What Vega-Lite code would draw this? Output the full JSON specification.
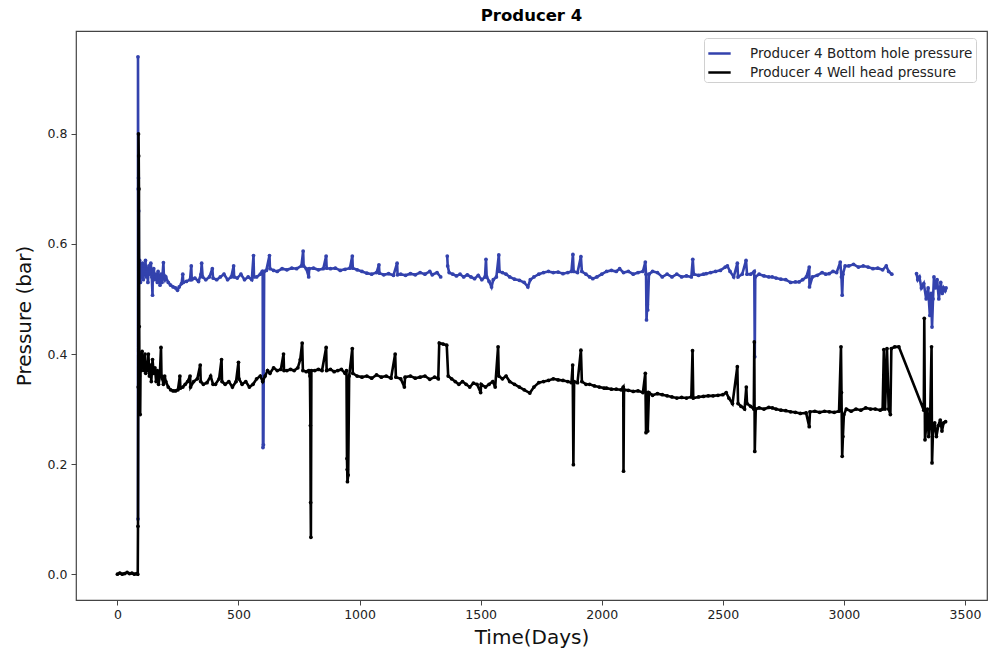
{
  "$schema": "https://vega.github.io/schema/vega-lite/v6.json",
  "width": 911,
  "height": 569,
  "autosize": {"type": "none"},
  "padding": {"left": 76, "top": 31, "right": 10, "bottom": 57},
  "background": "white",
  "config": {
    "view": {"stroke": "#444", "strokeWidth": 1.2},
    "font": "DejaVu Sans",
    "axis": {"grid": false, "domain": false, "tickColor": "#444", "tickSize": 5, "labelFont": "DejaVu Sans", "labelFontSize": 12.5, "labelColor": "#222", "titleFont": "DejaVu Sans", "titleFontWeight": "normal", "titleColor": "#111", "titleFontSize": 20}
  },
  "title": {"text": "Producer 4", "font": "DejaVu Sans", "fontSize": 16.5, "fontWeight": "bold", "color": "#000", "anchor": "middle", "offset": 7},
  "datasets": {
    "bhp": [
      {"d":85,"p":0.10,"g":1},{"d":85,"p":0.94,"g":1},{"d":86,"p":0.70,"g":1},{"d":87,"p":0.72,"g":1},{"d":88,"p":0.66,"g":1},{"d":89,"p":0.55,"g":1},{"d":92,"p":0.57,"g":1},{"d":95,"p":0.53,"g":1},{"d":98,"p":0.56,"g":1},{"d":101,"p":0.54,"g":1},{"d":104,"p":0.565,"g":1},{"d":107,"p":0.535,"g":1},{"d":110,"p":0.56,"g":1},{"d":113,"p":0.545,"g":1},{"d":116,"p":0.57,"g":1},{"d":119,"p":0.54,"g":1},{"d":122,"p":0.555,"g":1},{"d":126,"p":0.53,"g":1},{"d":130,"p":0.56,"g":1},{"d":134,"p":0.545,"g":1},{"d":138,"p":0.565,"g":1},{"d":142,"p":0.54,"g":1},{"d":145,"p":0.507,"g":1},{"d":146,"p":0.545,"g":1},{"d":150,"p":0.555,"g":1},{"d":155,"p":0.535,"g":1},{"d":160,"p":0.545,"g":1},{"d":165,"p":0.53,"g":1},{"d":168,"p":0.55,"g":1},{"d":172,"p":0.54,"g":1},{"d":176,"p":0.525,"g":1},{"d":180,"p":0.545,"g":1},{"d":184,"p":0.53,"g":1},{"d":190,"p":0.566,"g":1},{"d":192,"p":0.54,"g":1},{"d":196,"p":0.535,"g":1},{"d":200,"p":0.54,"g":1},{"d":210,"p":0.53,"g":1},{"d":220,"p":0.525,"g":1},{"d":230,"p":0.522,"g":1},{"d":240,"p":0.52,"g":1},{"d":248,"p":0.516,"g":1},{"d":255,"p":0.522,"g":1},{"d":265,"p":0.528,"g":1},{"d":270,"p":0.545,"g":1},{"d":272,"p":0.53,"g":1},{"d":285,"p":0.532,"g":1},{"d":300,"p":0.535,"g":1},{"d":305,"p":0.56,"g":1},{"d":307,"p":0.535,"g":1},{"d":320,"p":0.538,"g":1},{"d":335,"p":0.532,"g":1},{"d":345,"p":0.545,"g":1},{"d":348,"p":0.565,"g":1},{"d":352,"p":0.54,"g":1},{"d":365,"p":0.535,"g":1},{"d":380,"p":0.54,"g":1},{"d":392,"p":0.555,"g":1},{"d":395,"p":0.538,"g":1},{"d":410,"p":0.535,"g":1},{"d":425,"p":0.54,"g":1},{"d":440,"p":0.545,"g":1},{"d":455,"p":0.535,"g":1},{"d":470,"p":0.54,"g":1},{"d":480,"p":0.56,"g":1},{"d":482,"p":0.54,"g":1},{"d":495,"p":0.538,"g":1},{"d":510,"p":0.545,"g":1},{"d":525,"p":0.535,"g":1},{"d":540,"p":0.54,"g":1},{"d":555,"p":0.535,"g":1},{"d":562,"p":0.579,"g":1},{"d":564,"p":0.54,"g":1},{"d":575,"p":0.54,"g":1},{"d":590,"p":0.545,"g":1},{"d":598,"p":0.55,"g":1},{"d":600,"p":0.55,"g":1},{"d":601,"p":0.23,"g":1},{"d":603,"p":0.235,"g":1},{"d":606,"p":0.55,"g":1},{"d":615,"p":0.552,"g":1},{"d":628,"p":0.579,"g":1},{"d":630,"p":0.555,"g":1},{"d":645,"p":0.552,"g":1},{"d":660,"p":0.55,"g":1},{"d":680,"p":0.555,"g":1},{"d":700,"p":0.553,"g":1},{"d":720,"p":0.556,"g":1},{"d":740,"p":0.555,"g":1},{"d":760,"p":0.56,"g":1},{"d":767,"p":0.587,"g":1},{"d":769,"p":0.56,"g":1},{"d":780,"p":0.555,"g":1},{"d":790,"p":0.54,"g":1},{"d":792,"p":0.555,"g":1},{"d":810,"p":0.556,"g":1},{"d":830,"p":0.553,"g":1},{"d":850,"p":0.555,"g":1},{"d":862,"p":0.578,"g":1},{"d":864,"p":0.556,"g":1},{"d":880,"p":0.555,"g":1},{"d":900,"p":0.556,"g":1},{"d":920,"p":0.552,"g":1},{"d":940,"p":0.554,"g":1},{"d":960,"p":0.556,"g":1},{"d":970,"p":0.578,"g":1},{"d":972,"p":0.556,"g":1},{"d":990,"p":0.553,"g":1},{"d":1010,"p":0.55,"g":1},{"d":1030,"p":0.547,"g":1},{"d":1050,"p":0.545,"g":1},{"d":1070,"p":0.548,"g":1},{"d":1080,"p":0.562,"g":1},{"d":1082,"p":0.547,"g":1},{"d":1100,"p":0.544,"g":1},{"d":1120,"p":0.546,"g":1},{"d":1140,"p":0.543,"g":1},{"d":1155,"p":0.565,"g":1},{"d":1157,"p":0.544,"g":1},{"d":1170,"p":0.545,"g":1},{"d":1190,"p":0.543,"g":1},{"d":1210,"p":0.546,"g":1},{"d":1230,"p":0.544,"g":1},{"d":1250,"p":0.548,"g":1},{"d":1270,"p":0.545,"g":1},{"d":1290,"p":0.55,"g":1},{"d":1300,"p":0.544,"g":1},{"d":1320,"p":0.548,"g":1},{"d":1335,"p":0.54,"g":1},
      {"d":1362,"p":0.578,"g":2},{"d":1364,"p":0.56,"g":2},{"d":1370,"p":0.548,"g":2},{"d":1385,"p":0.545,"g":2},{"d":1400,"p":0.542,"g":2},{"d":1415,"p":0.545,"g":2},{"d":1430,"p":0.54,"g":2},{"d":1445,"p":0.544,"g":2},{"d":1460,"p":0.54,"g":2},{"d":1475,"p":0.537,"g":2},{"d":1490,"p":0.543,"g":2},{"d":1505,"p":0.535,"g":2},{"d":1518,"p":0.54,"g":2},{"d":1522,"p":0.572,"g":2},{"d":1525,"p":0.54,"g":2},{"d":1535,"p":0.532,"g":2},{"d":1545,"p":0.522,"g":2},{"d":1552,"p":0.535,"g":2},{"d":1565,"p":0.54,"g":2},{"d":1575,"p":0.58,"g":2},{"d":1578,"p":0.55,"g":2},{"d":1590,"p":0.548,"g":2},{"d":1605,"p":0.545,"g":2},{"d":1620,"p":0.54,"g":2},{"d":1640,"p":0.536,"g":2},{"d":1660,"p":0.534,"g":2},{"d":1680,"p":0.53,"g":2},{"d":1695,"p":0.522,"g":2},{"d":1705,"p":0.535,"g":2},{"d":1720,"p":0.54,"g":2},{"d":1740,"p":0.545,"g":2},{"d":1760,"p":0.548,"g":2},{"d":1780,"p":0.55,"g":2},{"d":1800,"p":0.548,"g":2},{"d":1820,"p":0.549,"g":2},{"d":1840,"p":0.546,"g":2},{"d":1860,"p":0.548,"g":2},{"d":1875,"p":0.55,"g":2},{"d":1881,"p":0.581,"g":2},{"d":1884,"p":0.55,"g":2},{"d":1900,"p":0.548,"g":2},{"d":1914,"p":0.577,"g":2},{"d":1918,"p":0.55,"g":2},{"d":1935,"p":0.545,"g":2},{"d":1950,"p":0.54,"g":2},{"d":1963,"p":0.537,"g":2},{"d":1980,"p":0.54,"g":2},{"d":2000,"p":0.545,"g":2},{"d":2020,"p":0.55,"g":2},{"d":2040,"p":0.552,"g":2},{"d":2060,"p":0.55,"g":2},{"d":2074,"p":0.555,"g":2},{"d":2090,"p":0.548,"g":2},{"d":2110,"p":0.55,"g":2},{"d":2130,"p":0.545,"g":2},{"d":2150,"p":0.548,"g":2},{"d":2170,"p":0.55,"g":2},{"d":2180,"p":0.567,"g":2},{"d":2183,"p":0.545,"g":2},{"d":2185,"p":0.462,"g":2},{"d":2188,"p":0.49,"g":2},{"d":2190,"p":0.48,"g":2},{"d":2195,"p":0.545,"g":2},{"d":2210,"p":0.55,"g":2},{"d":2230,"p":0.548,"g":2},{"d":2250,"p":0.54,"g":2},{"d":2270,"p":0.545,"g":2},{"d":2290,"p":0.54,"g":2},{"d":2310,"p":0.545,"g":2},{"d":2330,"p":0.54,"g":2},{"d":2350,"p":0.542,"g":2},{"d":2370,"p":0.54,"g":2},{"d":2376,"p":0.572,"g":2},{"d":2380,"p":0.545,"g":2},{"d":2400,"p":0.543,"g":2},{"d":2420,"p":0.545,"g":2},{"d":2431,"p":0.546,"g":2},{"d":2450,"p":0.548,"g":2},{"d":2470,"p":0.55,"g":2},{"d":2490,"p":0.552,"g":2},{"d":2510,"p":0.558,"g":2},{"d":2519,"p":0.56,"g":2},{"d":2530,"p":0.55,"g":2},{"d":2545,"p":0.54,"g":2},{"d":2560,"p":0.565,"g":2},{"d":2563,"p":0.54,"g":2},{"d":2580,"p":0.545,"g":2},{"d":2596,"p":0.57,"g":2},{"d":2600,"p":0.545,"g":2},{"d":2615,"p":0.545,"g":2},{"d":2630,"p":0.55,"g":2},{"d":2632,"p":0.395,"g":2},{"d":2634,"p":0.54,"g":2},{"d":2650,"p":0.545,"g":2},{"d":2670,"p":0.542,"g":2},{"d":2690,"p":0.54,"g":2},{"d":2704,"p":0.54,"g":2},{"d":2720,"p":0.538,"g":2},{"d":2740,"p":0.536,"g":2},{"d":2760,"p":0.535,"g":2},{"d":2780,"p":0.53,"g":2},{"d":2800,"p":0.531,"g":2},{"d":2815,"p":0.531,"g":2},{"d":2830,"p":0.535,"g":2},{"d":2845,"p":0.54,"g":2},{"d":2857,"p":0.558,"g":2},{"d":2858,"p":0.522,"g":2},{"d":2870,"p":0.54,"g":2},{"d":2890,"p":0.543,"g":2},{"d":2910,"p":0.548,"g":2},{"d":2925,"p":0.545,"g":2},{"d":2939,"p":0.546,"g":2},{"d":2955,"p":0.55,"g":2},{"d":2970,"p":0.548,"g":2},{"d":2985,"p":0.567,"g":2},{"d":2990,"p":0.54,"g":2},{"d":2993,"p":0.507,"g":2},{"d":2996,"p":0.545,"g":2},{"d":3005,"p":0.56,"g":2},{"d":3020,"p":0.56,"g":2},{"d":3040,"p":0.563,"g":2},{"d":3060,"p":0.558,"g":2},{"d":3080,"p":0.56,"g":2},{"d":3100,"p":0.558,"g":2},{"d":3120,"p":0.555,"g":2},{"d":3140,"p":0.556,"g":2},{"d":3160,"p":0.553,"g":2},{"d":3175,"p":0.56,"g":2},{"d":3185,"p":0.55,"g":2},{"d":3198,"p":0.545,"g":2},
      {"d":3300,"p":0.546,"g":3},{"d":3305,"p":0.535,"g":3},{"d":3312,"p":0.54,"g":3},{"d":3320,"p":0.52,"g":3},{"d":3330,"p":0.528,"g":3},{"d":3340,"p":0.5,"g":3},{"d":3348,"p":0.52,"g":3},{"d":3355,"p":0.47,"g":3},{"d":3360,"p":0.51,"g":3},{"d":3364,"p":0.449,"g":3},{"d":3368,"p":0.5,"g":3},{"d":3372,"p":0.54,"g":3},{"d":3378,"p":0.52,"g":3},{"d":3385,"p":0.535,"g":3},{"d":3392,"p":0.5,"g":3},{"d":3400,"p":0.53,"g":3},{"d":3406,"p":0.51,"g":3},{"d":3412,"p":0.52,"g":3},{"d":3418,"p":0.515,"g":3},{"d":3422,"p":0.52,"g":3}
    ],
    "whp": [
      {"d":0,"p":0},{"d":10,"p":0.002},{"d":20,"p":0},{"d":30,"p":0.001},{"d":40,"p":0.003},{"d":50,"p":0.001},{"d":60,"p":0.002},{"d":70,"p":0},{"d":80,"p":0.001},{"d":84,"p":0},{"d":85,"p":0.087},{"d":86,"p":0.34},{"d":87,"p":0.8},{"d":88,"p":0.76},{"d":89,"p":0.7},{"d":90,"p":0.45},{"d":91,"p":0.36},{"d":92,"p":0.39},{"d":94,"p":0.29},{"d":96,"p":0.4},{"d":99,"p":0.37},{"d":102,"p":0.405},{"d":105,"p":0.375},{"d":108,"p":0.395},{"d":111,"p":0.37},{"d":114,"p":0.4},{"d":117,"p":0.365},{"d":120,"p":0.385},{"d":124,"p":0.37},{"d":128,"p":0.4},{"d":132,"p":0.36},{"d":136,"p":0.38},{"d":140,"p":0.35},{"d":145,"p":0.39},{"d":150,"p":0.365},{"d":155,"p":0.375},{"d":160,"p":0.35},{"d":165,"p":0.37},{"d":170,"p":0.345},{"d":175,"p":0.36},{"d":180,"p":0.412},{"d":182,"p":0.36},{"d":186,"p":0.355},{"d":190,"p":0.345},{"d":195,"p":0.36},{"d":200,"p":0.35},{"d":210,"p":0.34},{"d":220,"p":0.335},{"d":230,"p":0.333},{"d":240,"p":0.333},{"d":250,"p":0.335},{"d":258,"p":0.36},{"d":260,"p":0.338},{"d":270,"p":0.34},{"d":280,"p":0.345},{"d":290,"p":0.35},{"d":300,"p":0.36},{"d":302,"p":0.34},{"d":315,"p":0.35},{"d":330,"p":0.355},{"d":342,"p":0.38},{"d":344,"p":0.35},{"d":355,"p":0.345},{"d":370,"p":0.348},{"d":385,"p":0.36},{"d":395,"p":0.345},{"d":405,"p":0.345},{"d":420,"p":0.355},{"d":430,"p":0.39},{"d":432,"p":0.35},{"d":445,"p":0.345},{"d":460,"p":0.35},{"d":475,"p":0.34},{"d":490,"p":0.35},{"d":500,"p":0.385},{"d":502,"p":0.355},{"d":515,"p":0.345},{"d":530,"p":0.35},{"d":545,"p":0.34},{"d":560,"p":0.345},{"d":575,"p":0.355},{"d":590,"p":0.36},{"d":600,"p":0.35},{"d":610,"p":0.36},{"d":620,"p":0.37},{"d":630,"p":0.365},{"d":645,"p":0.375},{"d":660,"p":0.37},{"d":675,"p":0.372},{"d":686,"p":0.4},{"d":688,"p":0.37},{"d":700,"p":0.37},{"d":715,"p":0.372},{"d":730,"p":0.37},{"d":745,"p":0.375},{"d":755,"p":0.39},{"d":763,"p":0.42},{"d":766,"p":0.37},{"d":780,"p":0.368},{"d":790,"p":0.37},{"d":795,"p":0.36},{"d":797,"p":0.27},{"d":798,"p":0.13},{"d":799,"p":0.067},{"d":801,"p":0.37},{"d":815,"p":0.37},{"d":830,"p":0.372},{"d":845,"p":0.37},{"d":862,"p":0.412},{"d":864,"p":0.37},{"d":880,"p":0.372},{"d":895,"p":0.368},{"d":910,"p":0.37},{"d":925,"p":0.372},{"d":940,"p":0.365},{"d":946,"p":0.37},{"d":948,"p":0.21},{"d":949,"p":0.19},{"d":950,"p":0.168},{"d":953,"p":0.18},{"d":957,"p":0.36},{"d":970,"p":0.41},{"d":972,"p":0.365},{"d":990,"p":0.36},{"d":1010,"p":0.358},{"d":1030,"p":0.36},{"d":1050,"p":0.356},{"d":1070,"p":0.362},{"d":1090,"p":0.358},{"d":1110,"p":0.36},{"d":1130,"p":0.356},{"d":1147,"p":0.4},{"d":1150,"p":0.358},{"d":1170,"p":0.355},{"d":1185,"p":0.34},{"d":1188,"p":0.358},{"d":1210,"p":0.36},{"d":1230,"p":0.356},{"d":1250,"p":0.358},{"d":1270,"p":0.36},{"d":1290,"p":0.354},{"d":1310,"p":0.358},{"d":1325,"p":0.355},{"d":1329,"p":0.42},{"d":1345,"p":0.418},{"d":1360,"p":0.416},{"d":1366,"p":0.36},{"d":1380,"p":0.355},{"d":1395,"p":0.35},{"d":1410,"p":0.345},{"d":1425,"p":0.35},{"d":1440,"p":0.345},{"d":1455,"p":0.34},{"d":1470,"p":0.347},{"d":1485,"p":0.345},{"d":1500,"p":0.33},{"d":1502,"p":0.345},{"d":1520,"p":0.34},{"d":1535,"p":0.345},{"d":1550,"p":0.35},{"d":1560,"p":0.34},{"d":1572,"p":0.413},{"d":1575,"p":0.36},{"d":1590,"p":0.355},{"d":1605,"p":0.36},{"d":1620,"p":0.35},{"d":1640,"p":0.345},{"d":1660,"p":0.34},{"d":1680,"p":0.335},{"d":1703,"p":0.329},{"d":1720,"p":0.34},{"d":1740,"p":0.348},{"d":1760,"p":0.35},{"d":1780,"p":0.352},{"d":1800,"p":0.355},{"d":1820,"p":0.353},{"d":1840,"p":0.352},{"d":1860,"p":0.35},{"d":1875,"p":0.348},{"d":1880,"p":0.38},{"d":1883,"p":0.199},{"d":1886,"p":0.35},{"d":1900,"p":0.348},{"d":1914,"p":0.407},{"d":1918,"p":0.35},{"d":1935,"p":0.345},{"d":1950,"p":0.345},{"d":1970,"p":0.342},{"d":1990,"p":0.34},{"d":2010,"p":0.338},{"d":2020,"p":0.338},{"d":2040,"p":0.336},{"d":2060,"p":0.336},{"d":2080,"p":0.335},{"d":2089,"p":0.34},{"d":2090,"p":0.187},{"d":2092,"p":0.335},{"d":2110,"p":0.334},{"d":2130,"p":0.332},{"d":2150,"p":0.333},{"d":2170,"p":0.33},{"d":2180,"p":0.365},{"d":2183,"p":0.257},{"d":2186,"p":0.33},{"d":2190,"p":0.26},{"d":2195,"p":0.33},{"d":2210,"p":0.325},{"d":2230,"p":0.328},{"d":2250,"p":0.326},{"d":2270,"p":0.324},{"d":2290,"p":0.322},{"d":2310,"p":0.32},{"d":2330,"p":0.321},{"d":2350,"p":0.32},{"d":2370,"p":0.322},{"d":2375,"p":0.406},{"d":2378,"p":0.32},{"d":2400,"p":0.322},{"d":2420,"p":0.323},{"d":2440,"p":0.324},{"d":2460,"p":0.324},{"d":2480,"p":0.325},{"d":2500,"p":0.326},{"d":2514,"p":0.33},{"d":2525,"p":0.32},{"d":2540,"p":0.31},{"d":2560,"p":0.377},{"d":2563,"p":0.31},{"d":2575,"p":0.305},{"d":2590,"p":0.3},{"d":2597,"p":0.34},{"d":2600,"p":0.31},{"d":2615,"p":0.305},{"d":2628,"p":0.3},{"d":2630,"p":0.422},{"d":2632,"p":0.223},{"d":2636,"p":0.3},{"d":2650,"p":0.302},{"d":2670,"p":0.3},{"d":2690,"p":0.303},{"d":2705,"p":0.302},{"d":2720,"p":0.3},{"d":2740,"p":0.298},{"d":2760,"p":0.297},{"d":2780,"p":0.295},{"d":2800,"p":0.294},{"d":2820,"p":0.292},{"d":2844,"p":0.293},{"d":2857,"p":0.268},{"d":2860,"p":0.295},{"d":2880,"p":0.296},{"d":2900,"p":0.294},{"d":2920,"p":0.296},{"d":2940,"p":0.295},{"d":2960,"p":0.294},{"d":2980,"p":0.296},{"d":2988,"p":0.413},{"d":2990,"p":0.33},{"d":2993,"p":0.214},{"d":2996,"p":0.25},{"d":3000,"p":0.29},{"d":3010,"p":0.3},{"d":3030,"p":0.296},{"d":3050,"p":0.3},{"d":3070,"p":0.298},{"d":3090,"p":0.302},{"d":3110,"p":0.3},{"d":3130,"p":0.3},{"d":3150,"p":0.298},{"d":3160,"p":0.3},{"d":3165,"p":0.408},{"d":3170,"p":0.3},{"d":3178,"p":0.41},{"d":3185,"p":0.3},{"d":3192,"p":0.29},{"d":3196,"p":0.41},{"d":3210,"p":0.413},{"d":3227,"p":0.413},{"d":3330,"p":0.298},{"d":3332,"p":0.465},{"d":3335,"p":0.244},{"d":3340,"p":0.27},{"d":3345,"p":0.3},{"d":3350,"p":0.25},{"d":3356,"p":0.28},{"d":3362,"p":0.413},{"d":3364,"p":0.202},{"d":3368,"p":0.26},{"d":3375,"p":0.275},{"d":3382,"p":0.25},{"d":3390,"p":0.27},{"d":3398,"p":0.28},{"d":3405,"p":0.26},{"d":3412,"p":0.275},{"d":3420,"p":0.277}
    ]
  },
  "encoding": {
    "x": {"field": "d", "type": "quantitative", "scale": {"domain": [-171, 3591], "nice": false, "zero": false}, "axis": {"values": [0, 500, 1000, 1500, 2000, 2500, 3000, 3500], "format": "d", "title": "Time(Days)", "labelPadding": 3, "titlePadding": 7}},
    "y": {"field": "p", "type": "quantitative", "scale": {"domain": [-0.047, 0.987], "nice": false, "zero": false}, "axis": {"values": [0, 0.2, 0.4, 0.6, 0.8], "format": ".1f", "title": "Pressure (bar)", "labelPadding": 4, "titlePadding": 13}},
    "order": {"value": null}
  },
  "layer": [
    {
      "data": {"name": "bhp"},
      "mark": {"type": "line", "strokeWidth": 2.6, "point": {"filled": true, "size": 14}},
      "encoding": {
        "detail": {"field": "g", "type": "nominal"},
        "color": {"datum": "Producer 4 Bottom hole pressure", "type": "nominal",
          "scale": {"domain": ["Producer 4 Bottom hole pressure", "Producer 4 Well head pressure"], "range": ["#3342ad", "#000000"]},
          "legend": {"orient": "none", "legendX": 628, "legendY": 7, "title": null, "symbolType": "stroke", "symbolSize": 500, "symbolStrokeWidth": 2.5, "labelFont": "DejaVu Sans", "labelFontSize": 13.5, "labelLimit": 0, "labelColor": "#222", "labelOffset": 18, "padding": 3, "rowPadding": -1, "strokeColor": "#d0d0d0", "fillColor": "white", "cornerRadius": 3}}
      }
    },
    {
      "data": {"name": "whp"},
      "mark": {"type": "line", "strokeWidth": 2.6, "point": {"filled": true, "size": 14}},
      "encoding": {
        "color": {"datum": "Producer 4 Well head pressure", "type": "nominal"}
      }
    }
  ]
}
